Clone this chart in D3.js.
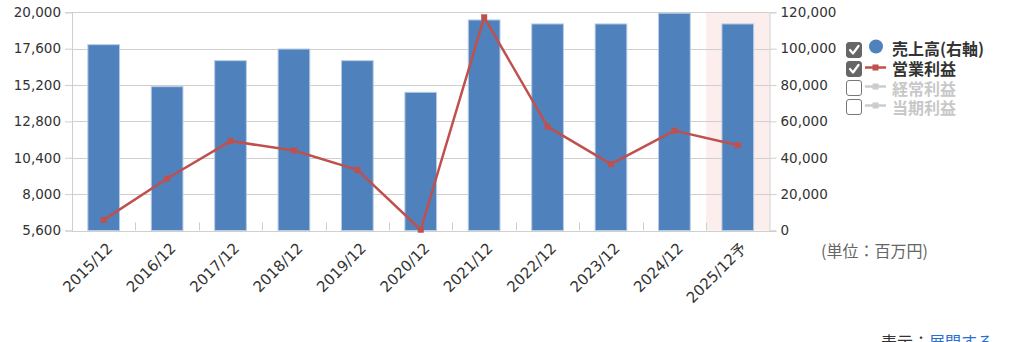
<!DOCTYPE html>
<html><head><meta charset="utf-8">
<script src="https://cdn.jsdelivr.net/npm/d3@7/dist/d3.min.js"></script>
<style>
html,body{margin:0;padding:0;background:#fff;}
svg{display:block;}
</style></head>
<body>
<svg id="chart" width="1024" height="342"></svg>
<script>
const categories = ["2015/12","2016/12","2017/12","2018/12","2019/12","2020/12","2021/12","2022/12","2023/12","2024/12","2025/12予"];
const sales = [102200, 79100, 93400, 99800, 93400, 76000, 115800, 113600, 113600, 119500, 113600];
const operatingProfit = [6300, 9030, 11500, 10880, 9600, 5650, 19670, 12460, 9980, 12190, 11230];
const leftTicks = [5600, 8000, 10400, 12800, 15200, 17600, 20000];
const rightTicks = [0, 20000, 40000, 60000, 80000, 100000, 120000];
const forecastCategory = "2025/12予";
const legendItems = [
  {label:"売上高(右軸)", checked:true, type:"circle", color:"#4f81bd"},
  {label:"営業利益", checked:true, type:"line", color:"#c0504d"},
  {label:"経常利益", checked:false, type:"line", color:"#cccccc"},
  {label:"当期利益", checked:false, type:"line", color:"#cccccc"}
];

(function(){
const svg = d3.select("#chart");
const pLeft = 72, pRight = 769.5, pTop = 12.3, pBottom = 230.5;
const font = "'DejaVu Sans', Verdana, sans-serif";
const cjk = "'Noto Sans CJK JP', sans-serif";

const x = d3.scaleBand().domain(categories).range([pLeft, pRight]).paddingInner(0.5).paddingOuter(0.25);
const xb = d3.scaleBand().domain(categories).range([pLeft, pRight]);
const yL = d3.scaleLinear().domain([5600, 20000]).range([pBottom, pTop]);
const yR = d3.scaleLinear().domain([0, 120000]).range([pBottom, pTop]);

// forecast background
svg.append("rect")
  .attr("x", xb(forecastCategory)).attr("y", pTop)
  .attr("width", xb.bandwidth()).attr("height", pBottom - pTop)
  .attr("fill", "#fdeeee");

// gridlines
svg.append("g").selectAll("line").data(leftTicks).join("line")
  .attr("x1", pLeft).attr("x2", pRight)
  .attr("y1", d => Math.round(yL(d)) + 0.5).attr("y2", d => Math.round(yL(d)) + 0.5)
  .attr("stroke", "#cfcfcf").attr("stroke-width", 1);

// left axis
const gL = svg.append("g").attr("transform", `translate(${pLeft},0)`)
  .call(d3.axisLeft(yL).tickValues(leftTicks).tickFormat(d3.format(",")).tickSize(7).tickPadding(4));
gL.select(".domain").attr("stroke", "#cfcfcf");
gL.selectAll(".tick line").attr("stroke", "#cfcfcf");
gL.selectAll("text").attr("font-family", font).attr("font-size", "13.5px").attr("fill", "#333");

// right axis
const gR = svg.append("g").attr("transform", `translate(${pRight},0)`)
  .call(d3.axisRight(yR).tickValues(rightTicks).tickFormat(d3.format(",")).tickSize(7).tickPadding(4));
gR.select(".domain").attr("stroke", "#cfcfcf");
gR.selectAll(".tick line").attr("stroke", "#cfcfcf");
gR.selectAll("text").attr("font-family", font).attr("font-size", "13.5px").attr("fill", "#333");

// bottom category tick marks at band boundaries
svg.append("g").selectAll("line").data(categories.slice(1)).join("line")
  .attr("x1", d => Math.round(xb(d)) + 0.5).attr("x2", d => Math.round(xb(d)) + 0.5)
  .attr("y1", pBottom - 8).attr("y2", pBottom)
  .attr("stroke", "#cfcfcf");

// bars
svg.append("g").selectAll("rect").data(categories).join("rect")
  .attr("x", d => x(d)).attr("width", x.bandwidth())
  .attr("y", (d,i) => yR(sales[i])).attr("height", (d,i) => pBottom - yR(sales[i]))
  .attr("fill", "#4f81bd").attr("stroke", "#b8cce4").attr("stroke-width", 1);

// bottom axis line
svg.append("line").attr("x1", pLeft).attr("x2", pRight + 6)
  .attr("y1", Math.round(pBottom) + 0.5).attr("y2", Math.round(pBottom) + 0.5)
  .attr("stroke", "#cfcfcf");

// x labels
svg.append("g").selectAll("text").data(categories).join("text")
  .attr("transform", d => `translate(${xb(d) + xb.bandwidth()/2 + 6},${pBottom + 15}) rotate(-45)`)
  .attr("text-anchor", "end").attr("dy", "0.35em")
  .attr("font-family", d => d.includes("予") ? font + ", " + cjk : font)
  .attr("font-size", "15px").attr("fill", "#333")
  .text(d => d);

// operating profit line
const line = d3.line().x((d,i) => xb(categories[i]) + xb.bandwidth()/2).y(d => yL(d));
svg.append("path").datum(operatingProfit)
  .attr("d", line).attr("fill", "none").attr("stroke", "#c0504d").attr("stroke-width", 2.5)
  .attr("stroke-linejoin", "round");
svg.append("g").selectAll("rect").data(operatingProfit).join("rect")
  .attr("x", (d,i) => xb(categories[i]) + xb.bandwidth()/2 - 3)
  .attr("y", d => yL(d) - 3)
  .attr("width", 6).attr("height", 6).attr("fill", "#c0504d");

// legend
const lg = svg.append("g");
const rowY = [50, 69, 88, 107];
const textY = [47.5, 68, 88, 106.5];
legendItems.forEach((it, i) => {
  const cy = rowY[i];
  const g = lg.append("g");
  g.append("rect").attr("x", 846.5).attr("y", cy - 7.5).attr("width", 15).attr("height", 15)
    .attr("rx", 2.5)
    .attr("fill", it.checked ? "#666" : "#fff")
    .attr("stroke", it.checked ? "#666" : "#777").attr("stroke-width", 1);
  if (it.checked) {
    g.append("path").attr("d", `M${850},${cy} L${853},${cy+3.5} L${858.5},${cy-4}`)
      .attr("fill", "none").attr("stroke", "#fff").attr("stroke-width", 2.2)
      .attr("stroke-linecap", "round").attr("stroke-linejoin", "round");
  }
  if (it.type === "circle") {
    g.append("circle").attr("cx", 876).attr("cy", cy - 3.5).attr("r", 7).attr("fill", it.color);
  } else {
    g.append("line").attr("x1", 865).attr("x2", 886).attr("y1", cy - 1.5).attr("y2", cy - 1.5)
      .attr("stroke", it.color).attr("stroke-width", 2.5);
    g.append("rect").attr("x", 872.5).attr("y", cy - 4.5).attr("width", 6).attr("height", 6).attr("fill", it.color);
  }
  g.append("text").attr("x", 892).attr("y", textY[i]).attr("dominant-baseline", "central")
    .attr("font-family", cjk).attr("font-weight", "bold").attr("font-size", "16px")
    .attr("fill", it.checked ? "#333" : "#c8c8c8")
    .text(it.label);
});

// unit label
svg.append("text").attr("x", 821).attr("y", 250).attr("dominant-baseline", "central")
  .attr("font-family", cjk).attr("font-size", "16px").attr("fill", "#666")
  .text("(単位：百万円)");

// bottom link text
const t = svg.append("text").attr("x", 881).attr("y", 348)
  .attr("font-family", cjk).attr("font-size", "16px");
t.append("tspan").attr("fill", "#333").text("表示：");
t.append("tspan").attr("fill", "#2a6fd6").text("展開する");
})();
</script>
</body></html>
